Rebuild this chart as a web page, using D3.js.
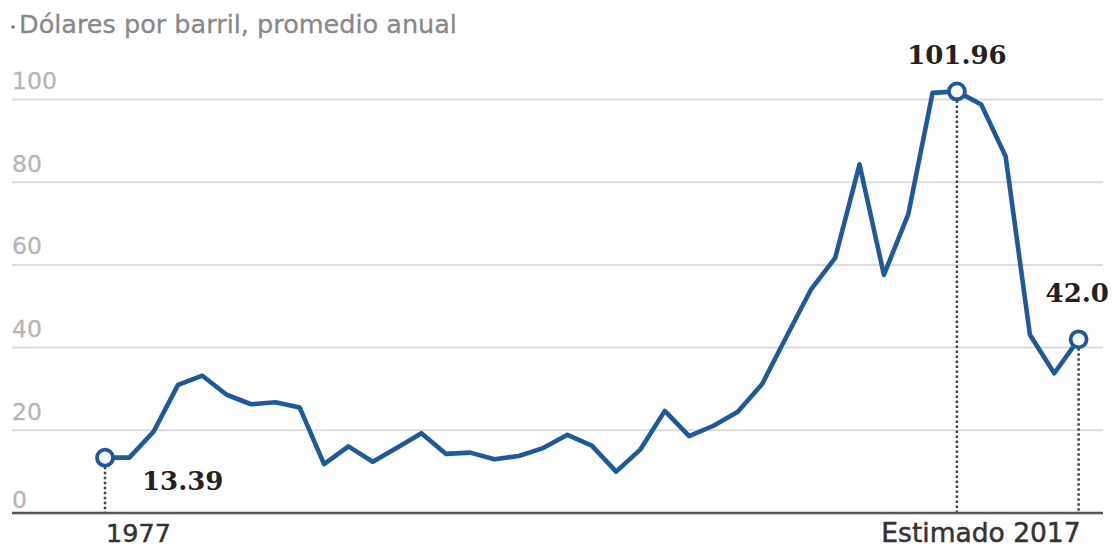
<!DOCTYPE html>
<html>
<head>
<meta charset="utf-8">
<script src="https://cdn.jsdelivr.net/npm/d3@7"></script>
<style>
  html, body { margin: 0; padding: 0; background: #fff; }
  svg { display: block; }
</style>
</head>
<body>
<svg id="chart" width="1120" height="550"></svg>
<script>
const title = "Dólares por barril, promedio anual";
const years = d3.range(1977, 2018);
const prices = [
  13.39, 13.4, 19.7, 31.0, 33.2, 28.6, 26.3, 26.8, 25.5, 11.8,
  16.1, 12.4, 15.8, 19.3, 14.3, 14.6, 13.0, 13.8, 15.7, 18.9,
  16.3, 10.0, 15.4, 24.7, 18.6, 21.1, 24.5, 31.2, 42.7, 54.0,
  61.7, 84.3, 57.6, 72.2, 101.6, 101.96, 98.8, 86.3, 43.1, 33.8,
  42.0
];
const yTicks = [0, 20, 40, 60, 80, 100];
const highlightYears = [1977, 2012, 2017];
const highlightLabels = ["13.39", "101.96", "42.0"];
const xAxisLabels = ["1977", "Estimado 2017"];

const svg = d3.select("#chart");
const x = d3.scaleLinear().domain([1977, 2017]).range([105, 1078.6]);
const y = d3.scaleLinear().domain([0, 100]).range([513, 99.5]);
const gridLeft = 12, gridRight = 1103;
const blue = "#1c5a9b";

// title
svg.append("circle").attr("cx", 13).attr("cy", 27).attr("r", 1.8).attr("fill", "#777");
svg.append("text").attr("x", 19).attr("y", 33)
  .attr("font-family", "DejaVu Sans").attr("font-size", 25.5)
  .attr("fill", "#888").attr("stroke", "#888").attr("stroke-width", 0.3).text(title);

// gridlines and tick labels
const yAxis = svg.append("g");
yAxis.selectAll("line.grid").data(yTicks.filter(d => d > 0)).enter().append("line")
  .attr("x1", gridLeft).attr("x2", gridRight)
  .attr("y1", d => y(d)).attr("y2", d => y(d))
  .attr("stroke", "#dcdcdc").attr("stroke-width", 2);
yAxis.selectAll("text").data(yTicks).enter().append("text")
  .attr("x", 12).attr("y", d => d === 0 ? y(d) - 5 : y(d) - 10.5)
  .attr("font-family", "DejaVu Sans").attr("font-size", 23.5)
  .attr("fill", "#b5b5b5").attr("stroke", "#b5b5b5").attr("stroke-width", 0.3).text(d => d);

// dotted drop lines
highlightYears.forEach((yr) => {
  const v = prices[years.indexOf(yr)];
  svg.append("line")
    .attr("x1", x(yr)).attr("x2", x(yr))
    .attr("y1", y(v) + 9).attr("y2", y(0))
    .attr("stroke", "#444").attr("stroke-width", 2.5)
    .attr("stroke-dasharray", "2.5,2.5");
});

// baseline
svg.append("line").attr("x1", gridLeft).attr("x2", gridRight)
  .attr("y1", y(0)).attr("y2", y(0))
  .attr("stroke", "#555").attr("stroke-width", 2.4);

// line
const line = d3.line().x((d, i) => x(years[i])).y(d => y(d));
svg.append("path").datum(prices)
  .attr("d", line).attr("fill", "none")
  .attr("stroke", blue).attr("stroke-width", 4.6)
  .attr("stroke-linejoin", "round").attr("stroke-linecap", "round");

// highlight circles
highlightYears.forEach((yr) => {
  const v = prices[years.indexOf(yr)];
  svg.append("circle").attr("cx", x(yr)).attr("cy", y(v)).attr("r", 8)
    .attr("fill", "#fff").attr("stroke", blue).attr("stroke-width", 3.8);
});

// value labels
const labelStyle = sel => sel.attr("font-family", "DejaVu Serif").attr("font-weight", "bold")
  .attr("font-size", 26).attr("fill", "#222");
const v0 = prices[0];
labelStyle(svg.append("text").attr("x", x(1977) + 37).attr("y", y(v0) + 32).text(highlightLabels[0]));
const v1 = prices[years.indexOf(2012)];
labelStyle(svg.append("text").attr("x", x(2012)).attr("y", y(v1) - 27)
  .attr("text-anchor", "middle").text(highlightLabels[1]));
const v2 = prices[years.indexOf(2017)];
labelStyle(svg.append("text").attr("x", x(2017) - 33).attr("y", y(v2) - 37).text(highlightLabels[2]));

// x labels
svg.append("text").attr("x", x(1977) + 1).attr("y", 542)
  .attr("font-family", "DejaVu Sans").attr("font-size", 25.5)
  .attr("fill", "#333").attr("stroke", "#333").attr("stroke-width", 0.5).text(xAxisLabels[0]);
svg.append("text").attr("x", x(2017) + 2).attr("y", 542).attr("text-anchor", "end")
  .attr("font-family", "DejaVu Sans").attr("font-size", 26.5)
  .attr("fill", "#333").attr("stroke", "#333").attr("stroke-width", 0.5).text(xAxisLabels[1]);
</script>
</body>
</html>
